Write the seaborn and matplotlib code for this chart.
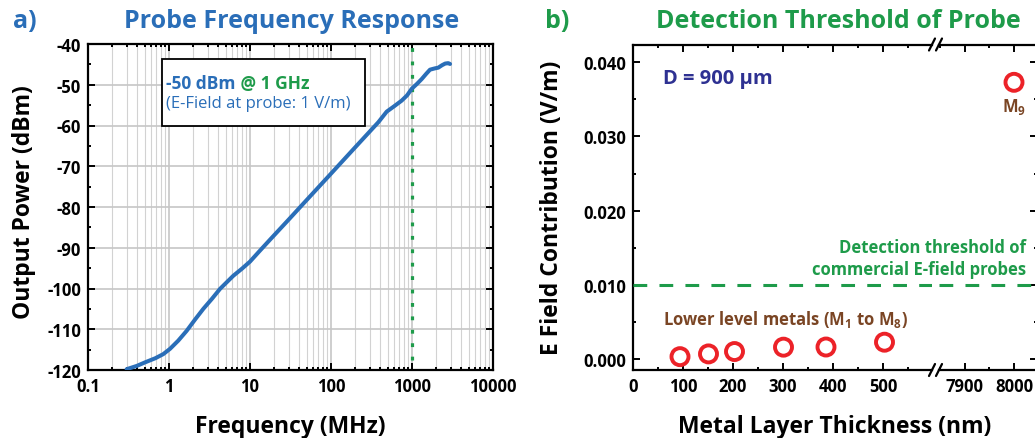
import numpy as np
import pandas as pd
import matplotlib
matplotlib.use("Agg")
import matplotlib.pyplot as plt
import matplotlib.ticker as mticker
from matplotlib.patches import Rectangle
import seaborn as sns

# ---------------- data ----------------
freq_mhz = [0.30, 0.40, 0.51, 0.68, 0.85, 1.03, 1.30, 1.65, 2.10, 2.65, 3.40, 4.26,
            5.20, 6.20, 8.00, 10, 13, 17.7, 30, 50, 97, 200, 384, 487, 600, 745,
            870, 991, 1150, 1318, 1500, 1668, 1900, 2113, 2350, 2570, 2800, 2950]
power_dbm = [-119.8, -119.0, -118.1, -117.1, -116.1, -114.8, -112.8, -110.4, -107.6,
             -105.0, -102.5, -100.1, -98.4, -96.9, -95.1, -93.4, -90.9, -88.0, -83.1,
             -78.3, -72.1, -65.3, -59.2, -56.6, -55.3, -53.9, -52.6, -51.0, -49.8,
             -48.6, -47.3, -46.3, -46.0, -45.8, -45.2, -44.8, -44.7, -44.9]
marker_freq = 1000

thick_low = [94, 151, 203, 301, 386, 503]
efield_low = [0.0003, 0.00067, 0.00099, 0.00158, 0.00160, 0.00225]
thick_m9 = [8000]
efield_m9 = [0.0373]
threshold = 0.010

freq_ticks = [0.1, 1, 10, 100, 1000, 10000]
freq_ticklabels = ["0.1", "1", "10", "100", "1000", "10000"]
power_ticks = [-40, -50, -60, -70, -80, -90, -100, -110, -120]
thick_ticks_low = [0, 100, 200, 300, 400, 500]
thick_ticks_high = [7900, 8000]
efield_ticks = [0.0, 0.01, 0.02, 0.03, 0.04]

# ---------------- style ----------------
sns.set_theme(style="ticks")
plt.rcParams["font.family"] = ["Open Sans", "DejaVu Sans"]
plt.rcParams["font.weight"] = "bold"
plt.rcParams["axes.unicode_minus"] = False
plt.rcParams["text.color"] = "black"
plt.rcParams["axes.labelcolor"] = "black"
plt.rcParams["xtick.color"] = "black"
plt.rcParams["ytick.color"] = "black"
plt.rcParams["mathtext.fontset"] = "custom"
plt.rcParams["mathtext.rm"] = "Open Sans:bold"
plt.rcParams["mathtext.bf"] = "Open Sans:bold"
plt.rcParams["mathtext.it"] = "Open Sans:bold"
plt.rcParams["mathtext.default"] = "bf"

BLUE = "#2a6eb8"
GREEN = "#1e9b4a"
RED = "#ec2228"
BROWN = "#7a4524"
NAVY = "#2e3192"
TICK_FS = 12
LABEL_FS = 16.5
TITLE_FS = 18

W, H = 1035, 439
fig = plt.figure(figsize=(W / 100, H / 100), dpi=100)


def px_rect(x0, x1, y0, y1):
    return [x0 / W, 1 - y1 / H, (x1 - x0) / W, (y1 - y0) / H]


def style_ticks(ax, left=True, right=True):
    ax.tick_params(which="both", direction="in", top=True, bottom=True,
                   left=left, right=right, width=1.4, colors="black",
                   labelsize=TICK_FS, pad=5)
    ax.tick_params(which="major", length=5)
    ax.tick_params(which="minor", length=2.5)
    for lab in ax.get_xticklabels() + ax.get_yticklabels():
        lab.set_fontweight("bold")
    for sp in ax.spines.values():
        sp.set_linewidth(1.6)
        sp.set_color("black")


# ---------------- panel a ----------------
axa = fig.add_axes(px_rect(88, 493, 45, 371))
df_a = pd.DataFrame({"freq": freq_mhz, "power": power_dbm})
sns.lineplot(data=df_a, x="freq", y="power", ax=axa, color=BLUE, lw=2.9, zorder=4)
axa.set_xscale("log")
axa.set_xlim(0.1, 10000)
axa.set_ylim(-120, -40)
axa.xaxis.set_major_locator(mticker.FixedLocator(freq_ticks))
axa.xaxis.set_major_formatter(mticker.FixedFormatter(freq_ticklabels))
axa.xaxis.set_minor_locator(mticker.LogLocator(base=10, subs=np.arange(2, 10), numticks=20))
axa.xaxis.set_minor_formatter(mticker.NullFormatter())
axa.yaxis.set_major_locator(mticker.FixedLocator(power_ticks))
axa.yaxis.set_minor_locator(mticker.MultipleLocator(5))
axa.grid(which="major", axis="both", color="#c6c6c6", lw=1.2, zorder=0)
axa.grid(which="minor", axis="x", color="#d2d2d2", lw=0.8, zorder=0)
axa.set_axisbelow(True)
axa.axvline(marker_freq, ymin=0.03, ymax=1, color=GREEN, lw=2.3,
            linestyle=(0, (1.2, 3.0)), zorder=3)
style_ticks(axa)
axa.set_xlabel("Frequency (MHz)", fontsize=LABEL_FS, fontweight="bold", color="black")
axa.set_ylabel("Output Power (dBm)", fontsize=LABEL_FS, fontweight="bold", color="black")
axa.xaxis.set_label_coords(0.499, -0.135)
axa.yaxis.set_label_coords(-0.128, 0.518)

axa.add_patch(Rectangle((0.183, 0.748), 0.501, 0.206, transform=axa.transAxes,
                        facecolor="white", edgecolor="black", lw=1.3, zorder=5))
t1 = axa.text(0.193, 0.880, "-50 dBm", transform=axa.transAxes, color=BLUE,
              fontsize=12.5, fontweight="bold", va="center", ha="left", zorder=6)
axa.annotate(" @ 1 GHz", xy=(1, 0.5), xycoords=t1, color=GREEN, fontsize=12.5,
             fontweight="bold", va="center", ha="left", zorder=6)
axa.text(0.193, 0.819, "(E-Field at probe: 1 V/m)", transform=axa.transAxes,
         color=BLUE, fontsize=12, fontweight="normal", va="center", ha="left", zorder=6)

fig.text(13 / W, 1 - 22 / H, "a)", color=BLUE, fontsize=TITLE_FS, fontweight="bold",
         ha="left", va="center")
fig.text(292 / W, 1 - 22 / H, "Probe Frequency Response", color=BLUE, fontsize=TITLE_FS,
         fontweight="bold", ha="center", va="center")

# ---------------- panel b (broken x axis) ----------------
scale = 0.5  # px per nm
b1_x0, b1_x1 = 633, 932
b2_x0, b2_x1 = 939, 1037
axb1 = fig.add_axes(px_rect(b1_x0, b1_x1, 45.5, 371))
axb2 = fig.add_axes(px_rect(b2_x0, b2_x1, 45.5, 371), sharey=axb1)

df_low = pd.DataFrame({"t": thick_low, "e": efield_low})
df_m9 = pd.DataFrame({"t": thick_m9, "e": efield_m9})
for ax, df in ((axb1, df_low), (axb2, df_m9)):
    sns.scatterplot(data=df, x="t", y="e", ax=ax, marker="o", s=150,
                    facecolor="none", edgecolor=RED, linewidth=2.8, zorder=5,
                    clip_on=False)
    ax.axhline(threshold, color=GREEN, lw=2.2, linestyle=(0, (4.5, 4.0)), zorder=3)

axb1.set_xlim(0, (b1_x1 - b1_x0) / scale)
x7900 = 965
axb2.set_xlim(7900 - (x7900 - b2_x0) / 0.49, 7900 + (b2_x1 - x7900) / 0.49)
axb1.set_ylim(-0.0015, 0.0424)

axb1.xaxis.set_major_locator(mticker.FixedLocator(thick_ticks_low))
axb1.xaxis.set_minor_locator(mticker.MultipleLocator(50))
axb2.xaxis.set_major_locator(mticker.FixedLocator(thick_ticks_high))
axb2.xaxis.set_minor_locator(mticker.MultipleLocator(50))
axb1.yaxis.set_major_locator(mticker.FixedLocator(efield_ticks))
axb1.yaxis.set_minor_locator(mticker.MultipleLocator(0.005))
axb1.yaxis.set_major_formatter(mticker.FormatStrFormatter("%.3f"))

axb1.spines["right"].set_visible(False)
axb2.spines["left"].set_visible(False)
style_ticks(axb1, left=True, right=False)
style_ticks(axb2, left=False, right=True)
axb2.tick_params(axis="y", labelleft=False, labelright=False)
axb2.set_xlabel("")
axb2.set_ylabel("")

axb1.set_ylabel("E Field Contribution (V/m)", fontsize=LABEL_FS, fontweight="bold",
                color="black")
axb1.yaxis.set_label_coords(-0.231, 0.50)
axb1.set_xlabel("Metal Layer Thickness (nm)", fontsize=LABEL_FS, fontweight="bold",
                color="black")
axb1.xaxis.set_label_coords((835 - b1_x0) / (b1_x1 - b1_x0), -0.135)

# break marks on the bottom and top spines
for yy in (0.0, 1.0):
    ypx = 1 - (45.5 + (1 - yy) * 325.5) / H
    for dx in (-3.5, 3.5):
        xc = (b1_x1 + b2_x0) / 2 + dx
        fig.add_artist(plt.Line2D([(xc - 3) / W, (xc + 3) / W],
                                  [ypx - 6 / H, ypx + 6 / H],
                                  color="black", lw=1.6))

axb1.text(0.101, 0.898, "D = 900 μm", transform=axb1.transAxes, color=NAVY,
          fontsize=14.5, fontweight="bold", ha="left", va="center")
axb1.text(304, 0.0055, "Lower level metals (M$_{1}$ to M$_{8}$)", color=BROWN,
          fontsize=12, fontweight="bold", ha="center", va="center")
axb2.annotate("M$_{9}$", xy=(thick_m9[0], efield_m9[0]), xytext=(0, -24),
              textcoords="offset pixels", color=BROWN, fontsize=12,
              fontweight="bold", ha="center", va="center")
fig.text(1026 / W, 1 - 259 / H, "Detection threshold of\ncommercial E-field probes",
         color=GREEN, fontsize=12, fontweight="bold", ha="right", va="center",
         multialignment="right", linespacing=1.25)

fig.text(545 / W, 1 - 22 / H, "b)", color=GREEN, fontsize=TITLE_FS, fontweight="bold",
         ha="left", va="center")
fig.text(838 / W, 1 - 22 / H, "Detection Threshold of Probe", color=GREEN,
         fontsize=TITLE_FS, fontweight="bold", ha="center", va="center")

fig.savefig("out.png", dpi=100)
